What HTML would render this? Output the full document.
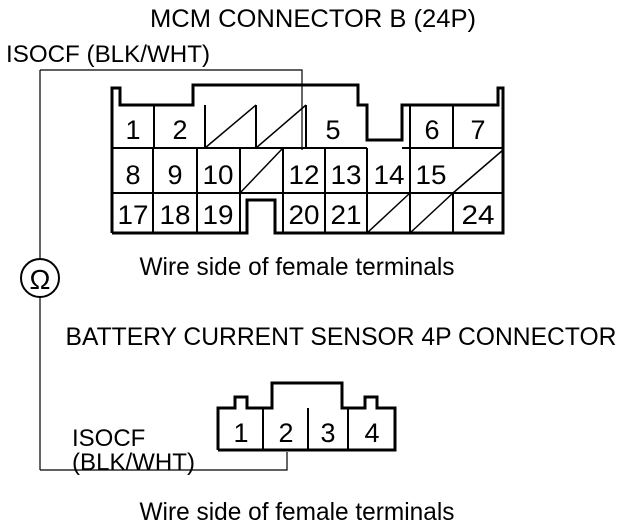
<html><head><style>body{margin:0;background:#fff}svg text{font-family:"Liberation Sans",sans-serif;fill:#000}</style></head><body>
<svg width="640" height="528" viewBox="0 0 640 528">
<text x="313" y="27" font-size="25" text-anchor="middle" textLength="326" lengthAdjust="spacingAndGlyphs">MCM CONNECTOR B (24P)</text>
<text x="6" y="62" font-size="24" textLength="204" lengthAdjust="spacingAndGlyphs">ISOCF (BLK/WHT)</text>
<g fill="none" stroke="#000" stroke-width="1.2">
<polyline points="40,70 302,70 302,150"/>
<line x1="40" y1="70" x2="40" y2="259"/>
<line x1="40" y1="297" x2="40" y2="470"/>
<polyline points="40,470 287,470 287,452"/>
<circle cx="40" cy="278" r="19" stroke-width="2"/>
</g>
<text x="40" y="289" font-size="28" text-anchor="middle">Ω</text>
<g fill="none" stroke="#000" stroke-width="3">
<polyline points="112,233 112,88 120,88 120,105 193,105 193,85 358,85 358,105 367,105 367,140 402,140 402,105 498,105 498,88 503,88 503,233 275,233 275,200 247,200 247,233 112,233"/>
</g>
<g stroke="#000" stroke-width="2" fill="none">
<line x1="112" y1="148" x2="367" y2="148"/><line x1="402" y1="148" x2="503" y2="148"/>
<line x1="112" y1="193" x2="503" y2="193"/>
<line x1="154" y1="105" x2="154" y2="148"/><line x1="205" y1="105" x2="205" y2="148"/><line x1="256" y1="105" x2="256" y2="148"/><line x1="306" y1="105" x2="306" y2="148"/><line x1="410" y1="105" x2="410" y2="233"/><line x1="453" y1="105" x2="453" y2="148"/>
<line x1="153" y1="148" x2="153" y2="233"/><line x1="197" y1="148" x2="197" y2="233"/><line x1="240" y1="148" x2="240" y2="233"/><line x1="283" y1="148" x2="283" y2="233"/><line x1="325" y1="148" x2="325" y2="233"/><line x1="367" y1="148" x2="367" y2="233"/><line x1="453" y1="193" x2="453" y2="233"/>
<line x1="205" y1="148" x2="256" y2="105" stroke-width="1.5"/><line x1="256" y1="148" x2="306" y2="105" stroke-width="1.5"/>
<line x1="240" y1="193" x2="283" y2="148" stroke-width="1.5"/>
<line x1="453" y1="193" x2="503" y2="150" stroke-width="1.5"/>
<line x1="367" y1="233" x2="410" y2="193" stroke-width="1.5"/><line x1="410" y1="233" x2="453" y2="193" stroke-width="1.5"/>
</g>
<g font-size="27" text-anchor="middle">
<text x="133" y="139">1</text><text x="180" y="139">2</text><text x="333" y="139">5</text><text x="432" y="139">6</text><text x="478" y="139">7</text>
<text x="133" y="184">8</text><text x="175" y="184">9</text><text x="218" y="184" textLength="31" lengthAdjust="spacingAndGlyphs">10</text><text x="304" y="184" textLength="31" lengthAdjust="spacingAndGlyphs">12</text><text x="346" y="184" textLength="31" lengthAdjust="spacingAndGlyphs">13</text><text x="389" y="184" textLength="31" lengthAdjust="spacingAndGlyphs">14</text><text x="431" y="184" textLength="31" lengthAdjust="spacingAndGlyphs">15</text>
<text x="133" y="224" textLength="31" lengthAdjust="spacingAndGlyphs">17</text><text x="175" y="224" textLength="31" lengthAdjust="spacingAndGlyphs">18</text><text x="218" y="224" textLength="31" lengthAdjust="spacingAndGlyphs">19</text><text x="304" y="224" textLength="31" lengthAdjust="spacingAndGlyphs">20</text><text x="346" y="224" textLength="31" lengthAdjust="spacingAndGlyphs">21</text><text x="478" y="224" textLength="33" lengthAdjust="spacingAndGlyphs">24</text>
</g>
<text x="297" y="275" font-size="25" text-anchor="middle" textLength="315" lengthAdjust="spacingAndGlyphs">Wire side of female terminals</text>
<text x="341" y="345" font-size="25" text-anchor="middle" textLength="551" lengthAdjust="spacingAndGlyphs">BATTERY CURRENT SENSOR 4P CONNECTOR</text>
<g fill="none" stroke="#000" stroke-width="3">
<polyline points="218,450 218,408 235,408 235,397 247,397 247,408 272,408 272,383 342,383 342,408 365,408 365,397 377,397 377,408 395,408 395,450 218,450"/>
</g>
<g stroke="#000" stroke-width="2"><line x1="263" y1="408" x2="263" y2="450"/><line x1="308" y1="408" x2="308" y2="450"/><line x1="348" y1="408" x2="348" y2="450"/></g>
<g font-size="27" text-anchor="middle"><text x="241" y="442">1</text><text x="286" y="442">2</text><text x="328" y="442">3</text><text x="372" y="442">4</text></g>
<text x="72" y="446" font-size="24">ISOCF</text>
<text x="72" y="470" font-size="24" textLength="123" lengthAdjust="spacingAndGlyphs">(BLK/WHT)</text>
<text x="297" y="520" font-size="25" text-anchor="middle" textLength="315" lengthAdjust="spacingAndGlyphs">Wire side of female terminals</text>
</svg></body></html>
